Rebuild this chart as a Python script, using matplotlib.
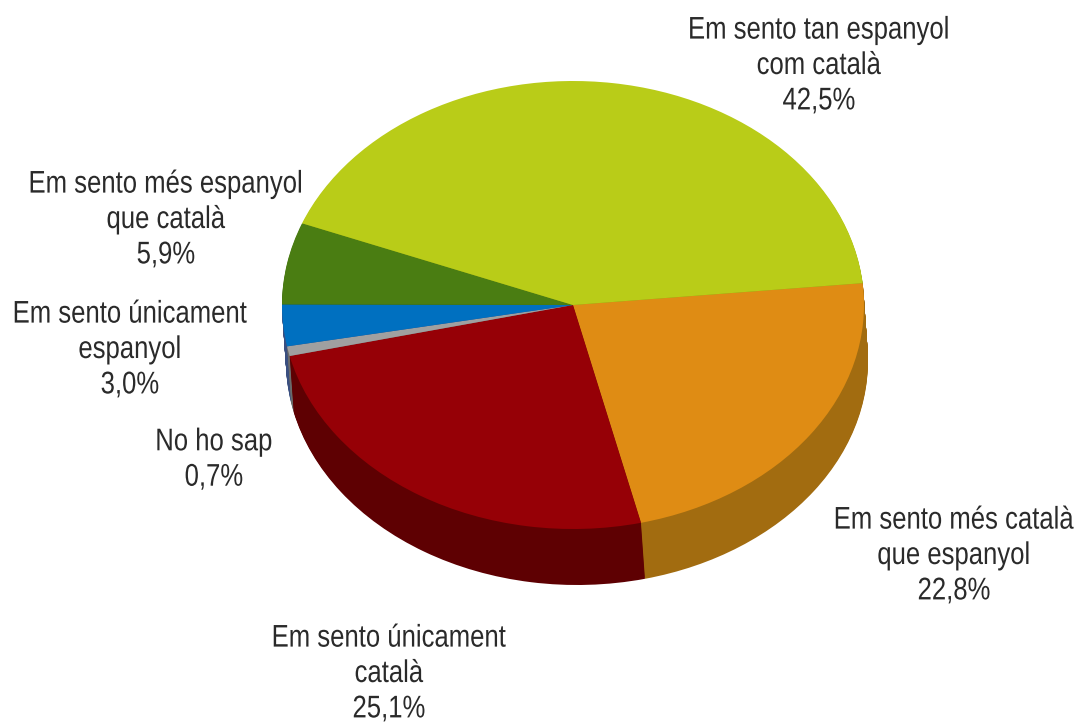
import matplotlib
matplotlib.use("Agg")
import matplotlib.pyplot as plt
from matplotlib.patheffects import AbstractPathEffect
from matplotlib.transforms import Affine2D

plt.rcParams['font.family'] = ['Liberation Sans', 'DejaVu Sans']

labels = ["Em sento més català\nque espanyol\n22,8%",
          "Em sento únicament\ncatalà\n25,1%",
          "No ho sap\n0,7%",
          "Em sento únicament\nespanyol\n3,0%",
          "Em sento més espanyol\nque català\n5,9%",
          "Em sento tan espanyol\ncom català\n42,5%"]
values = [22.8, 25.1, 0.7, 3.0, 5.9, 42.5]
top_colors = ["#DF8C14", "#960006", "#A0A0A0", "#0070C0", "#4A7D12", "#B9CC18"]
side_colors = ["#A26C10", "#5E0002", "#6A6A6A", "#3A4F80", "#33590C", "#8A9A10"]

# pixel position of the labels (centre x, centre y)
label_x = [954, 389, 214, 130, 166, 819]
label_y = [557, 675, 461, 351, 221, 67]


# reference text is condensed, so stretch the glyphs upwards
class TallText(AbstractPathEffect):
    def draw_path(self, renderer, gc, tpath, affine, rgbFace=None):
        renderer.draw_path(gc, tpath, Affine2D().scale(1, 1.22) + affine, rgbFace)


W, H = 1079, 725
fig = plt.figure(figsize=(W / 100, H / 100), dpi=100)
ax = fig.add_axes([0, 0, 1, 1])

cx, cy = 573, 305
rx, ry = 291, 224
depth = 56
skew = 4

# side of the pie, stacked layers
for d in range(depth, 0, -1):
    ax.pie(values, colors=side_colors, startangle=5.6, counterclock=False,
           center=((cx + skew * d / depth) / rx, (H - cy - d) / ry), radius=1,
           wedgeprops={'linewidth': 0})
ax.pie(values, colors=top_colors, startangle=5.6, counterclock=False,
       center=(cx / rx, (H - cy) / ry), radius=1, wedgeprops={'linewidth': 0})

# squash the circle into the ellipse
ax.set_aspect('auto')
ax.set_xlim(0, W / rx)
ax.set_ylim(0, H / ry)

for lab, x, y in zip(labels, label_x, label_y):
    ax.text(x / rx, (H - y) / ry, lab, ha='center', va='center', fontsize=18.5,
            color='#2A2A2A', linespacing=1.6, path_effects=[TallText()])

fig.savefig("out.png", dpi=100)
